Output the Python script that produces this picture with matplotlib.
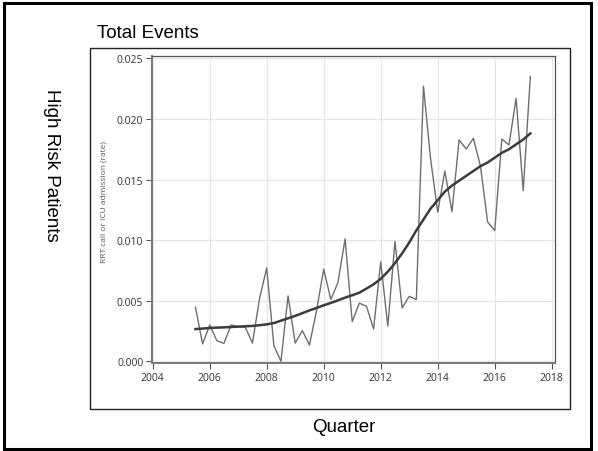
import matplotlib
matplotlib.use("Agg")
import matplotlib.pyplot as plt
from matplotlib.patches import Rectangle

# ---- data ----
quarters = [2005.5 + 0.25 * i for i in range(48)]
rate = [0.00446, 0.00143, 0.00300, 0.00170, 0.00148, 0.00300, 0.00286, 0.00280,
        0.00150, 0.00520, 0.00770, 0.00130, 0.00000, 0.00540, 0.00150, 0.00253,
        0.00134, 0.00420, 0.00760, 0.00510, 0.00650, 0.01010, 0.00327, 0.00480,
        0.00454, 0.00267, 0.00820, 0.00290, 0.00990, 0.00440, 0.00536, 0.00510,
        0.02270, 0.01670, 0.01230, 0.01570, 0.01234, 0.01826, 0.01752, 0.01840,
        0.01610, 0.01150, 0.01078, 0.01834, 0.01785, 0.02170, 0.01408, 0.02350]
smooth = [0.00266, 0.00270, 0.00275, 0.00278, 0.00280, 0.00283, 0.00286, 0.00289,
          0.00292, 0.00298, 0.00305, 0.00315, 0.00335, 0.00355, 0.00375, 0.00397,
          0.00420, 0.00440, 0.00462, 0.00482, 0.00503, 0.00525, 0.00545, 0.00566,
          0.00600, 0.00635, 0.00680, 0.00740, 0.00810, 0.00890, 0.00980, 0.01080,
          0.01170, 0.01260, 0.01330, 0.01400, 0.01450, 0.01490, 0.01530, 0.01570,
          0.01610, 0.01640, 0.01680, 0.01720, 0.01750, 0.01790, 0.01830, 0.01880]
x_ticks = [2004, 2006, 2008, 2010, 2012, 2014, 2016, 2018]
y_ticks = [0.000, 0.005, 0.010, 0.015, 0.020, 0.025]

W, H = 598, 452
fig = plt.figure(figsize=(W / 100, H / 100), dpi=100)
fig.patch.set_facecolor("white")

def fx(px):
    return px / W

def fy(py):
    return 1 - py / H

# outer frame
fig.patches.append(Rectangle((fx(4), fy(450)), fx(591) - fx(4), fy(4) - fy(450),
                             transform=fig.transFigure, fill=False,
                             edgecolor="black", linewidth=2.2))
# inner box
fig.patches.append(Rectangle((fx(90), fy(410)), fx(570) - fx(90), fy(48.5) - fy(410),
                             transform=fig.transFigure, fill=False,
                             edgecolor="#222222", linewidth=1.0))

# axes
left, right, top, bottom = 151.7, 555, 57, 364.3
ax = fig.add_axes([fx(left), fy(bottom), fx(right) - fx(left), fy(top) - fy(bottom)])
ax.plot(quarters, rate, color="#6e6e6e", linewidth=1.0)
ax.plot(quarters, smooth, color="#3c3c3c", linewidth=1.8)
ax.set_xlim(2003.965, 2018.115)
ax.set_ylim(-0.000165, 0.02519)
ax.set_xticks(x_ticks)
ax.set_yticks(y_ticks)
ax.set_xticklabels([str(t) for t in x_ticks])
ax.set_yticklabels([f"{t:.3f}" for t in y_ticks])
ax.grid(True, color="#e6e6e6", linewidth=0.9)
ax.set_axisbelow(True)
for s in ["top", "right"]:
    ax.spines[s].set_color("#555555")
    ax.spines[s].set_linewidth(0.9)
for s in ["left", "bottom"]:
    ax.spines[s].set_color("#777777")
    ax.spines[s].set_linewidth(1.4)
ax.tick_params(axis="both", labelsize=7.5, labelcolor="#333333", color="#555555",
               length=4, width=0.8, pad=2)
for lab in ax.get_xticklabels() + ax.get_yticklabels():
    lab.set_family("Open Sans")
ax.set_ylabel("RRT call or ICU admission (rate)", fontsize=6.0, color="#555555",
              family="Open Sans")
ax.yaxis.set_label_coords((107.5 - left) / (right - left), (bottom - 201.7) / (bottom - top))

# outer texts
fig.text(fx(97), fy(34), "Total Events", fontsize=13.5, family="Liberation Sans",
         ha="left", va="center", color="black")
fig.text(fx(51.5), fy(165), "High Risk Patients", fontsize=13.5,
         family="Liberation Sans", rotation=270, ha="center", va="center",
         color="black")
fig.text(fx(344), fy(428), "Quarter", fontsize=13.5, family="Liberation Sans",
         ha="center", va="center", color="black")

fig.savefig("out.png", dpi=100, facecolor="white")
